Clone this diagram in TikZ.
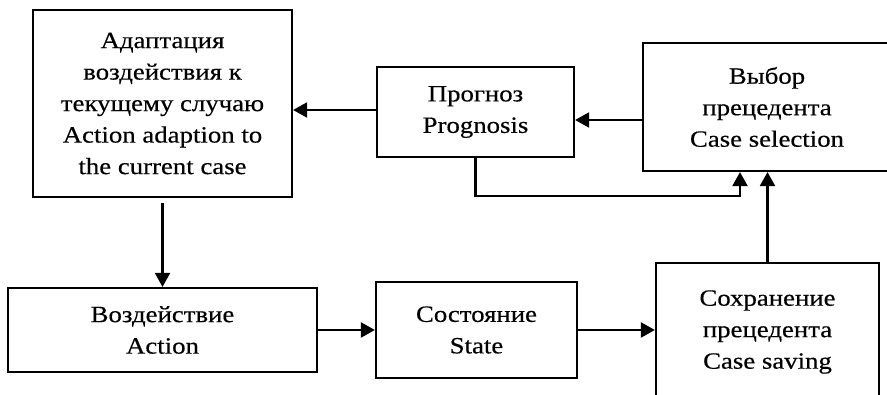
\documentclass[tikz,border=0pt]{standalone}
\usepackage{fontspec}
\setmainfont{Liberation Serif}[FakeStretch=1.15,FakeBold=0.4]
\usetikzlibrary{arrows.meta,calc}
\begin{document}
\begin{tikzpicture}[x=1pt,y=-1pt,
  box/.style={draw,line width=2.2pt,rectangle,inner sep=0pt,align=center,
    font=\fontsize{23.3}{31.5}\selectfont},
  arr/.style={line width=2.2pt,-{Triangle[length=14pt,width=15pt]}}]
  \useasboundingbox (0,0) rectangle (887,395);
  \clip (0,0) rectangle (887,395);

  % process blocks
  \node[box,minimum width=259pt,minimum height=187pt] (adapt) at (162.5,103.5)
    {Адаптация\\воздействия к\\текущему случаю\\Action adaption to\\the current case};
  \node[box,minimum width=197pt,minimum height=90pt] (prog) at (475.5,112)
    {Прогноз\\Prognosis};
  \node[box,minimum width=248pt,minimum height=128pt] (select) at (767,107)
    {Выбор\\прецедента\\Case selection};
  \node[box,minimum width=309pt,minimum height=84pt] (act) at (162.5,330)
    {Воздействие\\Action};
  \node[box,minimum width=201pt,minimum height=96pt] (state) at (476.5,330)
    {Состояние\\State};
  \node[box,minimum width=223pt,minimum height=138pt] (save) at (767.5,332)
    {Сохранение\\прецедента\\Case saving};

  % helper points for the connectors
  \coordinate (pl) at ($(prog.west)+(0,-2)$);
  \coordinate (pr) at ($(prog.east)+(0,8)$);
  \coordinate (bend) at ($(select.south)+(-27,24)$);

  % connectors
  \draw[arr] (select.west |- pr) -- (pr);
  \draw[arr] (pl) -- (adapt.east |- pl);
  \draw[arr] ([yshift=-5pt]adapt.south) -- (act.north);
  \draw[arr] (act.east) -- (state.west);
  \draw[arr] (state.east) -- (save.west |- state.east);
  \draw[arr] (save.north) -- (select.south -| save.north);
  \draw[arr] (prog.south) |- (bend) -- (bend |- select.south);
\end{tikzpicture}
\end{document}
